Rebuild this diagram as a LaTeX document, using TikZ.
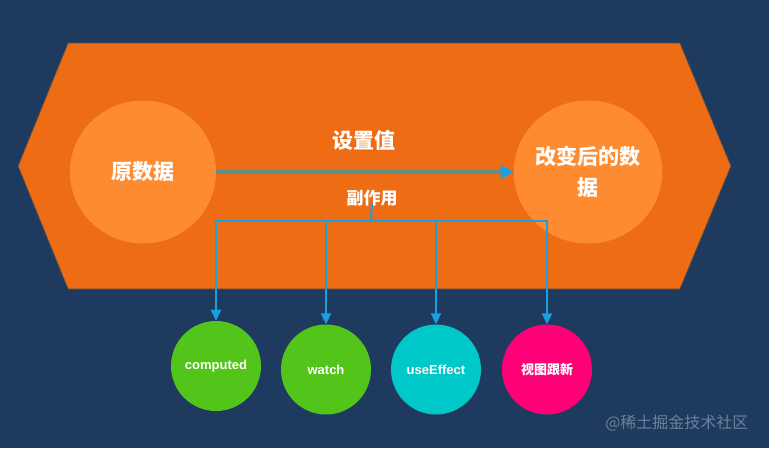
\documentclass[tikz,border=0pt]{standalone}
\usepackage{fontspec}
\setmainfont{Noto Sans CJK SC}
\newfontfamily\latinfont{Liberation Sans}
\usetikzlibrary{arrows.meta,shapes.geometric}
\definecolor{bgnavy}{HTML}{1F3A5F}
\definecolor{hexorange}{HTML}{EE6C14}
\definecolor{ellorange}{HTML}{FF8B30}
\definecolor{arrowblue}{HTML}{1AA0E0}
\definecolor{mainline}{HTML}{5F8E8A}
\definecolor{cgreen}{HTML}{52C41A}
\definecolor{ccyan}{HTML}{00C8C8}
\definecolor{cpink}{HTML}{FF0077}
\definecolor{wmgray}{HTML}{6E7F9A}
\tikzset{
  dataell/.style={ellipse, fill=ellorange, minimum width=146pt, minimum height=143pt, inner sep=0pt, text=white, font=\fontsize{21}{31}\selectfont\bfseries, align=center},
  effect/.style={circle, minimum size=90pt, inner sep=0pt, text=white, font=\fontsize{13}{15}\selectfont\bfseries},
  branch/.style={draw=arrowblue, line width=2pt, -{Triangle[length=11pt,width=10pt]}},
  lbl/.style={text=white, font=\bfseries, inner sep=1pt},
}
\begin{document}
\begin{tikzpicture}[x=1pt,y=-1pt]
\useasboundingbox (0,0) rectangle (769,448);
\fill[bgnavy] (0,0) rectangle (769,448);
\draw[fill=hexorange, draw=black!70, line width=0.8pt] (18,166) -- (68,43) -- (680,43) -- (731,166) -- (680,289) -- (68,289) -- cycle;
\node[dataell] (src) at (143,172) {原数据};
\node[dataell] (dst) at (588,172) {改变后的数\\据};
\node[lbl, font=\fontsize{21}{25}\selectfont\bfseries] (setv) at (364,141) {设置值};
\node[lbl, font=\fontsize{17}{20}\selectfont\bfseries] (side) at (372,198) {副作用};
\draw[mainline, line width=4pt, -{Triangle[length=13pt,width=14pt,color=arrowblue]}] (src.east) -- (dst.west);
\node[effect, fill=cgreen] (c1) at (216,366) {\latinfont\bfseries computed};
\node[effect, fill=cgreen] (c2) at (326,369.5) {\latinfont\bfseries watch};
\node[effect, fill=ccyan] (c3) at (436,369.5) {\latinfont\bfseries useEffect};
\node[effect, fill=cpink] (c4) at (547,369.5) {视图跟新};
\coordinate (j) at (371,221);
\draw[draw=arrowblue, line width=2pt] (side.south) ++(0,-4) -- (j);
\draw[branch] (j) -| (c1.north);
\draw[branch] (j) -| (c2.north);
\draw[branch] (j) -| (c3.north);
\draw[branch] (j) -| (c4.north);
\node[text=wmgray, font=\fontsize{16}{18}\selectfont, anchor=east] (wm) at (752,423) {@稀土掘金技术社区};
\end{tikzpicture}
\end{document}
